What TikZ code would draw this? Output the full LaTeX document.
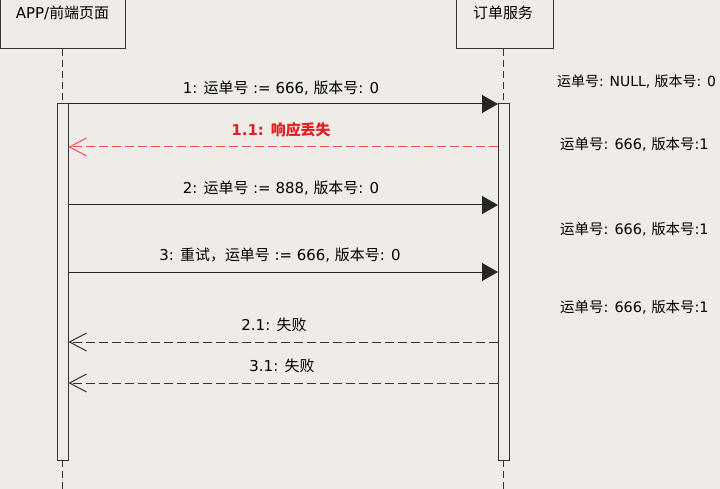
\documentclass[tikz,border=0pt]{standalone}
\usepackage{fontspec}
\setmainfont{DejaVu Sans}
\newfontfamily\cjk{Noto Sans CJK SC}
\usetikzlibrary{arrows.meta}
\definecolor{bgc}{RGB}{239,235,230}
\definecolor{redtxt}{RGB}{232,28,36}
\definecolor{redline}{RGB}{238,80,80}
\newcommand{\zh}[1]{{\cjk #1}}
\tikzset{
  lifebox/.style={draw=black!80, line width=1bp, fill=bgc},
  lifeline/.style={draw=black!80, line width=1bp, dash pattern=on 7bp off 4bp},
  actbar/.style={draw=black!80, line width=1bp, fill=bgc},
  callmsg/.style={draw=black!85, line width=1bp, -{Triangle[length=16bp,width=18bp]}},
  retmsg/.style={draw=black!80, line width=1bp, dash pattern=on 9bp off 4bp, -{Straight Barb[length=17bp,width=18bp,line width=1bp]}},
  lostmsg/.style={draw=redline, line width=1bp, dash pattern=on 9bp off 4bp, -{Straight Barb[length=17bp,width=18bp,line width=1bp]}},
  msglabel/.style={font=\fontsize{15}{17}\selectfont, inner sep=0pt},
  notelabel/.style={font=\fontsize{14.5}{17}\selectfont, inner sep=0pt, anchor=west},
  titlelabel/.style={font=\fontsize{15}{17}\selectfont, inner sep=0pt}
}
\begin{document}
\begin{tikzpicture}[x=1bp,y=-1bp]
\fill[bgc] (0,0) rectangle (720,489);
\useasboundingbox (0,0) rectangle (720,489);
% lifeline heads
\draw[lifebox] (0,0) rectangle (125,49);
\node[titlelabel] (appT) at (62.5,13) {APP/\zh{前端页面}};
\draw[lifebox] (456,0) rectangle (553,49);
\node[titlelabel] (svcT) at (503,13) {\zh{订单服务}};
% lifelines
\coordinate (aTop) at (62.5,49);
\coordinate (aBar) at (62.5,104);
\coordinate (aEnd) at (62.5,460);
\coordinate (aBot) at (62.5,489);
\coordinate (sTop) at (503.5,49);
\coordinate (sBar) at (503.5,104);
\coordinate (sEnd) at (503.5,460);
\coordinate (sBot) at (503.5,489);
\draw[lifeline] (aTop) -- (aBar);
\draw[lifeline] (aEnd) -- (aBot);
\draw[lifeline] (sTop) -- (sBar);
\draw[lifeline] (sEnd) -- (sBot);
% activation bars
\draw[actbar] (57.5,104) rectangle (68.5,460);
\draw[actbar] (498,104) rectangle (509,460);
% message endpoints
\coordinate (a1) at (68.5,104);  \coordinate (s1) at (498,104);
\coordinate (a2) at (68.5,147);  \coordinate (s2) at (498,147);
\coordinate (a3) at (68.5,205);  \coordinate (s3) at (498,205);
\coordinate (a4) at (68.5,272);  \coordinate (s4) at (498,272);
\coordinate (a5) at (68.5,342);  \coordinate (s5) at (498,342);
\coordinate (a6) at (68.5,383);  \coordinate (s6) at (498,383);
\draw[callmsg] (a1) -- (s1);
\draw[lostmsg] (s2) -- (a2);
\draw[callmsg] (a3) -- (s3);
\draw[callmsg] (a4) -- (s4);
\draw[retmsg] (s5) -- (a5);
\draw[retmsg] (s6) -- (a6);
% labels
\node[msglabel] (m1) at (281,88) {1: \zh{运单号} := 666, \zh{版本号}: 0};
\node[msglabel, text=redtxt, font=\fontsize{15}{17}\selectfont\bfseries] (m2) at (281,130) {1.1: {\cjk\bfseries 响应丢失}};
\node[msglabel] (m3) at (281,188) {2: \zh{运单号} := 888, \zh{版本号}: 0};
\node[msglabel] (m4) at (280,255) {3: \zh{重试，运单号} := 666, \zh{版本号}: 0};
\node[msglabel] (m5) at (274,325) {2.1: \zh{失败}};
\node[msglabel] (m6) at (282,366) {3.1: \zh{失败}};
% state notes
\node[notelabel, font=\fontsize{14}{17}\selectfont] (n1) at (557,81) {\zh{运单号}: NULL, \zh{版本号}: 0};
\node[notelabel] (n2) at (560,144) {\zh{运单号}: 666, \zh{版本号}:1};
\node[notelabel] (n3) at (560,229) {\zh{运单号}: 666, \zh{版本号}:1};
\node[notelabel] (n4) at (560,307) {\zh{运单号}: 666, \zh{版本号}:1};
\end{tikzpicture}
\end{document}
